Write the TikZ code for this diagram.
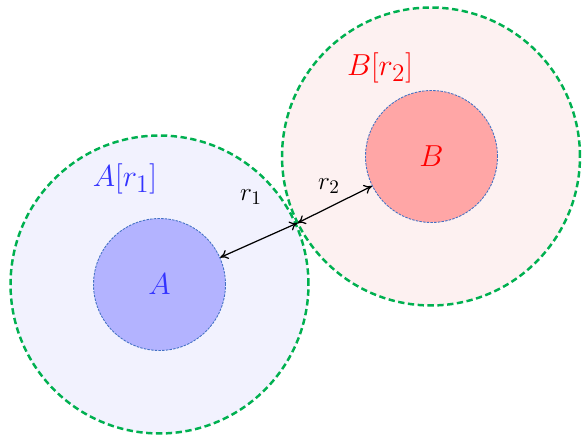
\documentclass[tikz,border=0pt]{standalone}
\usepackage{amsmath}
\usepackage{tikz}
\usetikzlibrary{
    arrows.meta,
    positioning
}

\definecolor{ballgreen}{HTML}{00B050}
\definecolor{rimblue}{HTML}{4472C4}
\definecolor{setblue}{HTML}{3333FF}
\definecolor{setred}{HTML}{FF0000}

\tikzset{
    outerball/.style={circle, draw=ballgreen, line width=1.4pt,
        dash pattern=on 3.6pt off 2pt, minimum size=5.96cm, inner sep=0pt},
    innerball/.style={circle, draw=rimblue, line width=0.5pt,
        dash pattern=on 1.4pt off 0.7pt, minimum size=2.64cm, inner sep=0pt,
        font=\fontsize{19}{22}\selectfont},
    setlabel/.style={font=\fontsize{19}{22}\selectfont, inner sep=0pt},
    radlabel/.style={font=\fontsize{15}{18}\selectfont, inner sep=0pt},
    radarrow/.style={line width=0.7pt,
        {To[length=4.5pt,width=5.5pt]}-{To[length=4.5pt,width=5.5pt]}}
}

\begin{document}
\begin{tikzpicture}[x=0.02cm,y=0.02cm]

\useasboundingbox (0,0) rectangle (582,-435);

% outer balls
\node[outerball, fill={rgb,255:red,242;green,242;blue,254}] (ballA) at (159.5,-284.5) {};
\node[outerball, fill={rgb,255:red,253;green,240;blue,240}, fill opacity=0.9,
      draw opacity=1] (ballB) at (431,-156.5) {};

% inner balls
\node[innerball, fill={rgb,255:red,179;green,179;blue,255}, text=setblue]
      (A) at (159.5,-284.5) {$A$};
\node[innerball, fill={rgb,255:red,255;green,166;blue,166}, text=setred]
      (B) at (431.5,-156.5) {$B$};

% labels
\node[setlabel, text=setblue] (labA) at (125,-179) {$A[r_1]$};
\node[setlabel, text=setred] (labB) at (380,-68) {$B[r_2]$};

% radii
\coordinate (meet) at (297.5,-223);
\draw[radarrow] (A) -- (meet);
\draw[radarrow] (meet) -- (B);
\node[radlabel] (rA) at (251,-197) {$r_1$};
\node[radlabel] (rB) at (329,-186) {$r_2$};

\end{tikzpicture}
\end{document}
